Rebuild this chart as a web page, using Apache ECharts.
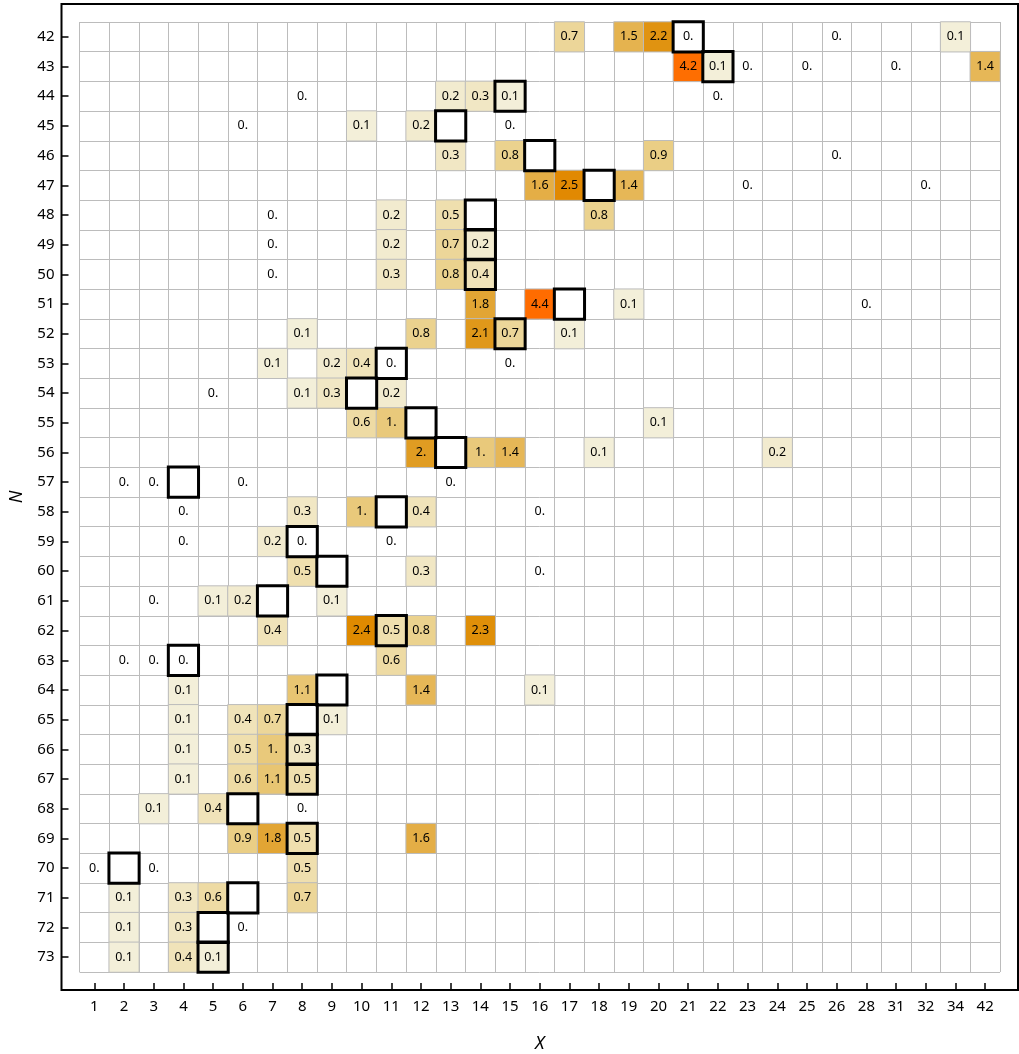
<!DOCTYPE html>
<html>
<head>
<meta charset="utf-8">
<script src="https://cdn.jsdelivr.net/npm/echarts@6/dist/echarts.min.js"></script>
<style>
  html, body { margin: 0; padding: 0; background: #fff; }
  #chart { width: 1019px; height: 1054px; }
</style>
</head>
<body>
<div id="chart"></div>
<script>
// column labels (X) and row labels (N, top to bottom)
const xCats = [1, 2, 3, 4, 5, 6, 7, 8, 9, 10, 11, 12, 13, 14, 15, 16, 17, 18, 19, 20,
  21, 22, 23, 24, 25, 26, 28, 31, 32, 34, 42];
const nCats = [42, 43, 44, 45, 46, 47, 48, 49, 50, 51, 52, 53, 54, 55, 56, 57, 58, 59,
  60, 61, 62, 63, 64, 65, 66, 67, 68, 69, 70, 71, 72, 73];

// boxed cell (X value) for each row, same order as nCats
const boxX = [21, 22, 15, 13, 16, 18, 14, 14, 14, 17, 15, 11, 10, 12, 13, 4, 11, 8, 9, 7,
  11, 4, 9, 8, 8, 8, 6, 8, 2, 6, 5, 5];

// [X, N, value]
const cells = [
  [17, 42, 0.7], [19, 42, 1.5], [20, 42, 2.2], [21, 42, 0], [26, 42, 0], [34, 42, 0.1],
  [21, 43, 4.2], [22, 43, 0.1], [23, 43, 0], [25, 43, 0], [31, 43, 0], [42, 43, 1.4],
  [8, 44, 0], [13, 44, 0.2], [14, 44, 0.3], [15, 44, 0.1], [22, 44, 0],
  [6, 45, 0], [10, 45, 0.1], [12, 45, 0.2], [15, 45, 0],
  [13, 46, 0.3], [15, 46, 0.8], [20, 46, 0.9], [26, 46, 0],
  [16, 47, 1.6], [17, 47, 2.5], [19, 47, 1.4], [23, 47, 0], [32, 47, 0],
  [7, 48, 0], [11, 48, 0.2], [13, 48, 0.5], [18, 48, 0.8],
  [7, 49, 0], [11, 49, 0.2], [13, 49, 0.7], [14, 49, 0.2],
  [7, 50, 0], [11, 50, 0.3], [13, 50, 0.8], [14, 50, 0.4],
  [14, 51, 1.8], [16, 51, 4.4], [19, 51, 0.1], [28, 51, 0],
  [8, 52, 0.1], [12, 52, 0.8], [14, 52, 2.1], [15, 52, 0.7], [17, 52, 0.1],
  [7, 53, 0.1], [9, 53, 0.2], [10, 53, 0.4], [11, 53, 0], [15, 53, 0],
  [5, 54, 0], [8, 54, 0.1], [9, 54, 0.3], [11, 54, 0.2],
  [10, 55, 0.6], [11, 55, 1.0], [20, 55, 0.1],
  [12, 56, 2.0], [14, 56, 1.0], [15, 56, 1.4], [18, 56, 0.1], [24, 56, 0.2],
  [2, 57, 0], [3, 57, 0], [6, 57, 0], [13, 57, 0],
  [4, 58, 0], [8, 58, 0.3], [10, 58, 1.0], [12, 58, 0.4], [16, 58, 0],
  [4, 59, 0], [7, 59, 0.2], [8, 59, 0], [11, 59, 0],
  [8, 60, 0.5], [12, 60, 0.3], [16, 60, 0],
  [3, 61, 0], [5, 61, 0.1], [6, 61, 0.2], [9, 61, 0.1],
  [7, 62, 0.4], [10, 62, 2.4], [11, 62, 0.5], [12, 62, 0.8], [14, 62, 2.3],
  [2, 63, 0], [3, 63, 0], [4, 63, 0], [11, 63, 0.6],
  [4, 64, 0.1], [8, 64, 1.1], [12, 64, 1.4], [16, 64, 0.1],
  [4, 65, 0.1], [6, 65, 0.4], [7, 65, 0.7], [9, 65, 0.1],
  [4, 66, 0.1], [6, 66, 0.5], [7, 66, 1.0], [8, 66, 0.3],
  [4, 67, 0.1], [6, 67, 0.6], [7, 67, 1.1], [8, 67, 0.5],
  [3, 68, 0.1], [5, 68, 0.4], [8, 68, 0],
  [6, 69, 0.9], [7, 69, 1.8], [8, 69, 0.5], [12, 69, 1.6],
  [1, 70, 0], [3, 70, 0], [8, 70, 0.5],
  [2, 71, 0.1], [4, 71, 0.3], [5, 71, 0.6], [8, 71, 0.7],
  [2, 72, 0.1], [4, 72, 0.3], [6, 72, 0],
  [2, 73, 0.1], [4, 73, 0.4], [5, 73, 0.1]
];

const toItem = c => [xCats.indexOf(c[0]), nCats.indexOf(c[1]), c[2]];
const colored = cells.filter(c => c[2] > 0).map(toItem);
const zeros = cells.filter(c => c[2] === 0).map(toItem);
const boxes = boxX.map((x, i) => [xCats.indexOf(x), i, 0]);

// Mathematica-style numbers: 1. / 0. / 0.4
const fmt = p => {
  const v = p.value[2];
  return Number.isInteger(v) ? v + '.' : v.toFixed(1);
};

const FONT = 'Noto Sans';
const gridColor = '#bcbcbc';
const cellLabel = { show: true, formatter: fmt, color: '#000', fontFamily: FONT, fontSize: 12.5 };

const chart = echarts.init(document.getElementById('chart'));
chart.setOption({
  animation: false,
  backgroundColor: '#fff',
  grid: { left: 79.5, right: 19, top: 22, bottom: 82, containLabel: false, outerBoundsMode: 'none' },
  xAxis: {
    type: 'category',
    data: xCats.map(String),
    position: 'bottom',
    offset: 18,
    name: 'X',
    nameLocation: 'middle',
    nameGap: 45,
    nameTextStyle: { fontFamily: FONT, fontSize: 18, fontStyle: 'italic', color: '#000' },
    axisLine: { show: false },
    axisTick: { show: true, inside: true, length: 7, alignWithLabel: true, interval: 0,
      lineStyle: { color: '#000', width: 1.5 } },
    axisLabel: { interval: 0, margin: 9, color: '#000', fontFamily: FONT, fontSize: 15 },
    splitLine: { show: true, interval: 0, lineStyle: { color: gridColor, width: 1 } }
  },
  yAxis: {
    type: 'category',
    data: nCats.map(String),
    inverse: true,
    position: 'left',
    offset: 18,
    name: 'N',
    nameLocation: 'middle',
    nameGap: 36,
    nameRotate: 90,
    nameTextStyle: { fontFamily: FONT, fontSize: 18, fontStyle: 'italic', color: '#000' },
    axisLine: { show: false },
    axisTick: { show: true, inside: true, length: 7, alignWithLabel: true, interval: 0,
      lineStyle: { color: '#000', width: 1.5 } },
    axisLabel: { interval: 0, margin: 7, color: '#000', fontFamily: FONT, fontSize: 15 },
    splitLine: { show: true, interval: 0, lineStyle: { color: gridColor, width: 1 } }
  },
  visualMap: {
    show: false,
    type: 'continuous',
    seriesIndex: 0,
    dimension: 2,
    min: 0,
    max: 4.4,
    inRange: {
      color: ['#f4f3e4', '#f0e3b9', '#ebd28e', '#e7c068', '#e4ae46', '#e09c22',
        '#df8a00', '#e6840a', '#ee7d06', '#f67604', '#fc6f02', '#ff6c00']
    }
  },
  graphic: [{
    type: 'rect',
    silent: true,
    z: 100,
    shape: { x: 61.5, y: 4, width: 956.5, height: 986 },
    style: { fill: 'none', stroke: '#000', lineWidth: 2 }
  }],
  series: [
    {
      type: 'heatmap',
      data: colored,
      itemStyle: { borderColor: gridColor, borderWidth: 1 },
      label: cellLabel,
      emphasis: { disabled: true }
    },
    {
      type: 'heatmap',
      data: zeros,
      itemStyle: { color: 'rgba(255,255,255,0)', borderWidth: 0 },
      label: cellLabel,
      emphasis: { disabled: true }
    },
    {
      type: 'heatmap',
      data: boxes,
      silent: true,
      itemStyle: { color: 'rgba(0,0,0,0)', borderColor: '#000', borderWidth: 3 },
      label: { show: false },
      emphasis: { disabled: true }
    }
  ]
});
</script>
</body>
</html>
